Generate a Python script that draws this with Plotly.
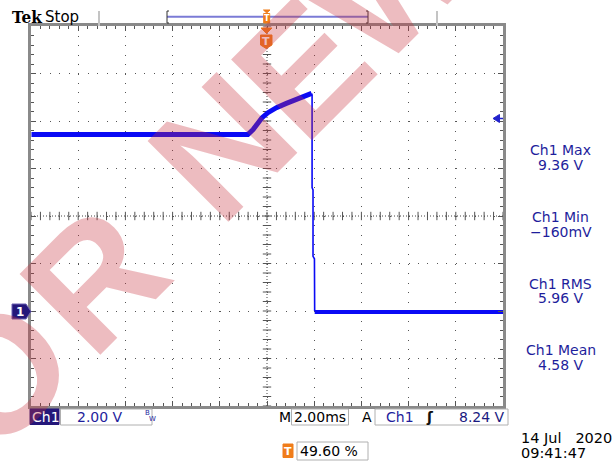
import plotly.graph_objects as go

# ---------------- data (read from the screen) ----------------
# time in ms relative to trigger point, voltage in V
high_t = [-9.90, -0.73, -0.51, -0.31, -0.14, 0.12, 0.48, 0.90, 1.33, 1.75, 1.97]
high_v = [7.43, 7.43, 7.64, 7.89, 8.13, 8.35, 8.56, 8.74, 8.91, 9.07, 9.16]
drop_t = [1.97, 1.99, 1.99, 2.03, 2.03, 2.09, 2.10]
drop_v = [9.16, 9.10, 5.20, 5.10, 2.30, 2.20, 0.00]
low_t = [2.10, 10.08]
low_v = [-0.04, -0.04]

meas_names = ["Ch1 Max", "Ch1 Min", "Ch1 RMS", "Ch1 Mean"]
meas_values = ["9.36 V", "\u2212160mV", "5.96 V", "4.58 V"]

ch_label = "Ch1"
ch_scale = "2.00 V"
time_scale = "2.00ms"
trig_source = "Ch1"
trig_level = "8.24 V"
trig_pos = "49.60 %"
date_str = "14 Jul\u00a0\u00a0\u00a02020"
time_str = "09:41:47"
watermark_letters = ["O", "R", "N", "E", "W"]

# screen settings
X_RANGE = [-9.92, 10.08]   # 10 div x 2 ms, trigger at 49.6 %
Y_RANGE = [-4.0, 12.0]     # 8 div x 2 V, ground 2 div below centre

# ---------------- layout helpers ----------------
FW, FH = 614, 462
L, T, W, H = 31, 26, 472, 380


def px(x):
    return (x - L) / W


def py(y):
    return 1 - (y - T) / H


shapes = []
annotations = []


def rect(x0, y0, x1, y1, line="#b0b0b0", fill="rgba(0,0,0,0)", lw=1):
    shapes.append(dict(type="rect", xref="paper", yref="paper",
                       x0=px(x0), x1=px(x1), y0=py(y1), y1=py(y0),
                       line=dict(color=line, width=lw), fillcolor=fill, layer="above"))


def seg(x0, y0, x1, y1, color="#000", lw=1):
    shapes.append(dict(type="line", xref="paper", yref="paper",
                       x0=px(x0), x1=px(x1), y0=py(y0), y1=py(y1),
                       line=dict(color=color, width=lw), layer="above"))


def poly(pts, fill, line=None):
    d = "M " + " L ".join(f"{px(a):.5f},{py(b):.5f}" for a, b in pts) + " Z"
    shapes.append(dict(type="path", xref="paper", yref="paper", path=d,
                       fillcolor=fill, line=dict(color=line or fill, width=1), layer="above"))


def text(x, y, s, size=14, color="#000", anchor="left", family="DejaVu Sans",
         angle=0, yanchor="middle"):
    annotations.append(dict(xref="paper", yref="paper", x=px(x), y=py(y), text=s,
                            showarrow=False, xanchor=anchor, yanchor=yanchor,
                            textangle=angle, borderpad=0,
                            font=dict(size=size, color=color, family=family)))


BLUE_TXT = "#1e1e9c"
NAVY = "#24177a"
ORANGE = "#f07d1a"
TRACE = "#0a0af5"

# ---------------- figure ----------------
fig = go.Figure()

# centre cross ticks (graticule decoration)
cx = (X_RANGE[0] + X_RANGE[1]) / 2
cy = (Y_RANGE[0] + Y_RANGE[1]) / 2
xt = [X_RANGE[0] + i * 0.4 for i in range(51)]
yt = [Y_RANGE[0] + i * 0.4 for i in range(41)]
fig.add_trace(go.Scatter(x=xt, y=[cy] * len(xt), mode="markers",
                         marker=dict(symbol="line-ns", size=6,
                                     line=dict(color="#555", width=1)),
                         hoverinfo="skip", showlegend=False))
fig.add_trace(go.Scatter(x=[cx] * len(yt), y=yt, mode="markers",
                         marker=dict(symbol="line-ew", size=6,
                                     line=dict(color="#555", width=1)),
                         hoverinfo="skip", showlegend=False))
shapes.append(dict(type="line", xref="x", yref="y", x0=X_RANGE[0], x1=X_RANGE[1],
                   y0=cy, y1=cy, line=dict(color="#444", width=1, dash="1px,2px"),
                   layer="below"))
shapes.append(dict(type="line", xref="x", yref="y", x0=cx, x1=cx,
                   y0=Y_RANGE[0], y1=Y_RANGE[1],
                   line=dict(color="#444", width=1, dash="1px,2px"), layer="below"))

# waveform
fig.add_trace(go.Scatter(x=high_t, y=high_v, mode="lines",
                         line=dict(color=TRACE, width=5), hoverinfo="skip", showlegend=False))
fig.add_trace(go.Scatter(x=drop_t, y=drop_v, mode="lines",
                         line=dict(color=TRACE, width=1.6), hoverinfo="skip", showlegend=False))
fig.add_trace(go.Scatter(x=low_t, y=low_v, mode="lines",
                         line=dict(color=TRACE, width=4), hoverinfo="skip", showlegend=False))

# ---------------- header ----------------
text(11, 16.5, "<b>Tek</b>", size=17, family="DejaVu Serif Condensed, DejaVu Serif")
text(44, 16.5, "Stop", size=15)
seg(99, 11, 99, 26, "#c4c4c4", 2)
seg(437, 11, 437, 26, "#c4c4c4", 2)
seg(167, 16.7, 368, 16.7, "#7b7bd6", 2)
for xb, d in [(167, 1), (368, -1)]:
    seg(xb, 11, xb, 23, "#333", 1)
    seg(xb, 11, xb + 2 * d, 11, "#333", 1)
    seg(xb, 23, xb + 2 * d, 23, "#333", 1)
poly([(263.5, 10), (270, 10), (266.7, 13)], ORANGE)
rect(263.7, 13.5, 269.7, 23, line=ORANGE, fill=ORANGE)
text(266.7, 18.5, "<b>T</b>", size=8, color="#fff", anchor="center")
poly([(261, 28), (272, 28), (266.5, 33.5)], ORANGE)
poly([(260.5, 35), (272, 35), (272, 45), (266.2, 48.5), (260.5, 45)], ORANGE)
text(266.3, 41, "<b>T</b>", size=11, color="#fff", anchor="center")

# ground marker and trigger level marker
poly([(12, 304), (26, 304), (31, 311.5), (26, 319), (12, 319)], NAVY, line="#6a5fb0")
text(19.5, 311.8, "<b>1</b>", size=12, color="#fff", anchor="center")
poly([(493, 118.5), (499.5, 114.5), (499.5, 122.5)], "#2222cc")
seg(499, 118.5, 503, 118.5, "#2222cc", 1.5)

# ---------------- measurements ----------------
meas_y = [150, 217, 283.5, 350]
for name, val, yy in zip(meas_names, meas_values, meas_y):
    text(560.5, yy, name, size=14, color=BLUE_TXT, anchor="center")
    text(560.5, yy + 14.8, val, size=14, color=BLUE_TXT, anchor="center")

# ---------------- bottom bar ----------------
rect(30, 409, 59, 424.5, line=NAVY, fill=NAVY)
text(30.5, 417, ch_label, size=14, color="#fff")
rect(60.5, 409, 152, 425)
text(76, 417, ch_scale, size=14, color=BLUE_TXT)
text(144, 413, "B", size=7, color=BLUE_TXT)
text(148, 419, "W", size=7, color=BLUE_TXT)
text(278, 417, "M", size=14)
rect(291.5, 409, 348.5, 425)
text(293, 417, time_scale, size=14)
text(361, 417, "A", size=14)
rect(375, 409, 508, 425)
text(385, 417, trig_source, size=14, color=BLUE_TXT)
text(425, 417, "<b>\u0283</b>", size=14, color="#111")
text(506, 417, trig_level, size=14, color="#1a1a80", anchor="right")

rect(283, 444, 293, 457.5, line=ORANGE, fill=ORANGE)
text(288, 451, "<b>T</b>", size=11, color="#fff", anchor="center")
rect(297, 442, 368, 460)
text(298.5, 451, trig_pos, size=14)
text(520, 437.5, date_str, size=14.5)
text(520, 453, time_str, size=14.5)

# ---------------- watermark ----------------
wm_pos = [(-2, 374), (94, 279), (222, 146), (302, 68), (392, -22)]
for ch, (wx, wy) in zip(watermark_letters, wm_pos):
    text(wx, wy, "<b>" + ch + "</b>", size=166, color="rgba(200,52,64,0.33)",
         anchor="center", family="Liberation Sans", angle=-45)

fig.update_layout(
    width=FW, height=FH,
    margin=dict(l=L, r=FW - L - W, t=T, b=FH - T - H),
    paper_bgcolor="#ffffff", plot_bgcolor="#ffffff",
    showlegend=False, shapes=shapes, annotations=annotations,
)
fig.update_xaxes(range=X_RANGE, tick0=X_RANGE[0], dtick=2, showgrid=True,
                 gridcolor="#555", gridwidth=1, griddash="1px,8.5px",
                 showline=True, linecolor="#8a8a8a", linewidth=3, mirror="ticks",
                 ticks="inside", ticklen=5, tickcolor="#555", tickwidth=1,
                 minor=dict(dtick=0.4, tick0=X_RANGE[0], ticks="inside", ticklen=3,
                            tickcolor="#555", showgrid=False),
                 showticklabels=False, zeroline=False, fixedrange=True)
fig.update_yaxes(range=Y_RANGE, tick0=Y_RANGE[0], dtick=2, showgrid=True,
                 gridcolor="#555", gridwidth=1, griddash="1px,8.44px",
                 showline=True, linecolor="#8a8a8a", linewidth=3, mirror="ticks",
                 ticks="inside", ticklen=5, tickcolor="#555", tickwidth=1,
                 minor=dict(dtick=0.4, tick0=Y_RANGE[0], ticks="inside", ticklen=3,
                            tickcolor="#555", showgrid=False),
                 showticklabels=False, zeroline=False, fixedrange=True)

fig.write_html("out.html", config={"displayModeBar": False},
               post_script="document.body.style.margin='0';document.body.style.overflow='hidden';")
